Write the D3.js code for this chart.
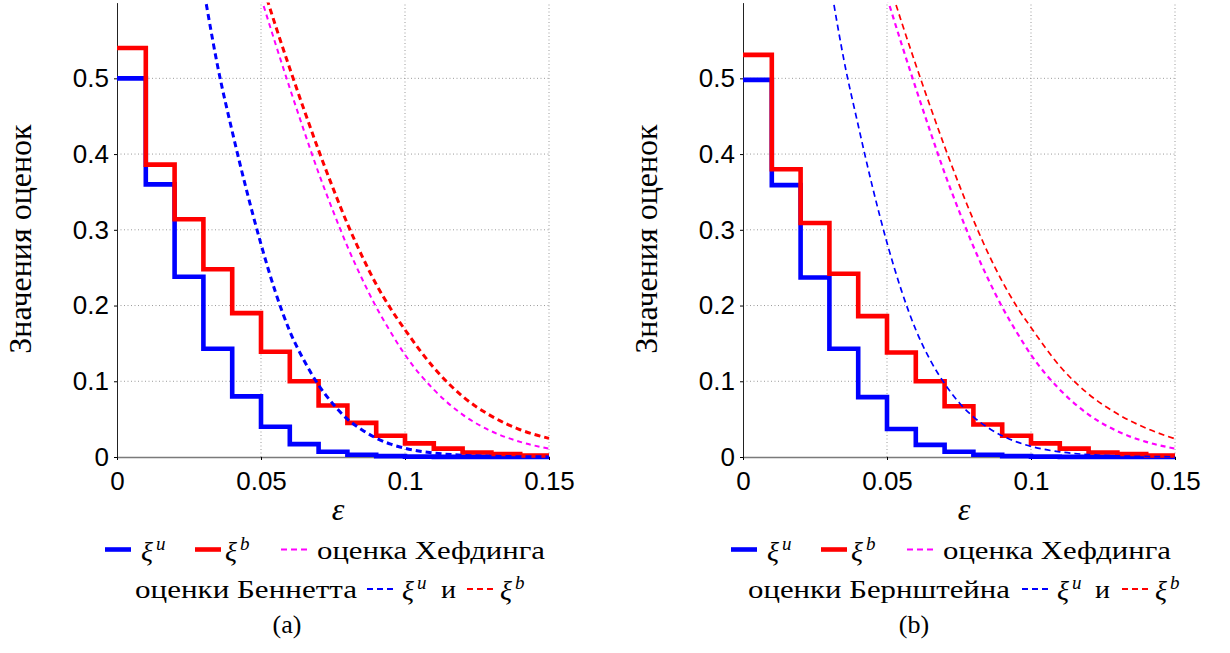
<!DOCTYPE html>
<html>
<head>
<meta charset="utf-8">
<script src="https://cdn.jsdelivr.net/npm/d3@7"></script>
<style>
  body { margin: 0; background: #fff; }
  svg { display: block; }
  .serif { font-family: 'Liberation Serif', 'Times New Roman', serif; }
  .sans { font-family: 'Liberation Sans', Arial, sans-serif; }
</style>
</head>
<body>
<script>
// axis ticks
const xTicks = [0, 0.05, 0.1, 0.15];
const xTickLabels = ['0', '0.05', '0.1', '0.15'];
const yTicks = [0, 0.1, 0.2, 0.3, 0.4, 0.5];
const yTickLabels = ['0', '0.1', '0.2', '0.3', '0.4', '0.5'];

// step estimates, one value per bin of width 0.01
const binEdges = [0, 0.01, 0.02, 0.03, 0.04, 0.05, 0.06, 0.07, 0.08, 0.09, 0.10, 0.11, 0.12, 0.13, 0.14, 0.15];
const xiU_a = [0.500, 0.360, 0.238, 0.143, 0.080, 0.040, 0.017, 0.007, 0.003, 0.0012, 0.0005, 0.0002, 0.0001, 0.00005, 0.00002];
const xiB_a = [0.540, 0.386, 0.314, 0.248, 0.190, 0.139, 0.100, 0.068, 0.045, 0.028, 0.018, 0.011, 0.006, 0.004, 0.002];
const xiU_b = [0.498, 0.359, 0.237, 0.143, 0.079, 0.037, 0.016, 0.007, 0.003, 0.0012, 0.0005, 0.0002, 0.0001, 0.00005, 0.00002];
const xiB_b = [0.531, 0.380, 0.309, 0.242, 0.186, 0.138, 0.100, 0.067, 0.043, 0.028, 0.018, 0.011, 0.006, 0.004, 0.002];

// bound curves
const boundEps = [0.05, 0.055, 0.06, 0.065, 0.07, 0.075, 0.08, 0.085, 0.09, 0.095, 0.10, 0.11, 0.12, 0.13, 0.14, 0.15];
const hoeffding = [0.607, 0.546, 0.487, 0.430, 0.375, 0.325, 0.278, 0.236, 0.198, 0.165, 0.135, 0.089, 0.056, 0.034, 0.020, 0.011];
const bennettB = [0.630, 0.570, 0.513, 0.458, 0.405, 0.355, 0.308, 0.266, 0.228, 0.196, 0.168, 0.118, 0.080, 0.054, 0.036, 0.0246];
const bernsteinB = [0.635, 0.575, 0.518, 0.463, 0.410, 0.360, 0.313, 0.270, 0.232, 0.199, 0.171, 0.120, 0.083, 0.057, 0.038, 0.024];

const uEps = [0.031, 0.035, 0.04, 0.045, 0.05, 0.055, 0.06, 0.065, 0.07, 0.075, 0.08, 0.085, 0.09, 0.095, 0.10, 0.11, 0.12, 0.13, 0.14, 0.15];
const bennettU = [0.598, 0.515, 0.430, 0.352, 0.281, 0.218, 0.166, 0.127, 0.095, 0.070, 0.050, 0.036, 0.025, 0.017, 0.0115, 0.0052, 0.0023, 0.001, 0.0004, 0.00015];
const bernsteinU = [0.610, 0.525, 0.438, 0.356, 0.283, 0.220, 0.168, 0.128, 0.097, 0.072, 0.053, 0.039, 0.028, 0.020, 0.014, 0.0068, 0.0032, 0.0015, 0.0007, 0.0003];

const draw = () => {
    const width = 1230, height = 653;
    const yBottom = 457, yTop = 2.6;

    const svg = d3.select('body')
        .append('svg')
        .attr('width', width)
        .attr('height', height);

    const panels = [
        {id: 'a', x0: 117, x1: 549, stepU: xiU_a, stepB: xiB_a,
         curveU: bennettU, curveB: bennettB, dashW: 3, magW: 2,
         row2: 'оценки Беннетта', row2x: 135, row2len: 222,
         r2: {blue: 367, xiU: 402, and: 441, red: 467, xiB: 500},
         caption: '(a)', capX: 287},
        {id: 'b', x0: 743, x1: 1175, stepU: xiU_b, stepB: xiB_b,
         curveU: bernsteinU, curveB: bernsteinB, dashW: 1.7, magW: 2.2,
         row2: 'оценки Бернштейна', row2x: 748, row2len: 262,
         r2: {blue: 1022, xiU: 1057, and: 1095, red: 1122, xiB: 1155},
         caption: '(b)', capX: 914}
    ];

    const xiLabel = (g, x, yBase, sup) => {
        g.append('text').attr('class', 'serif').attr('x', x).attr('y', yBase)
            .attr('font-style', 'italic').attr('font-size', 28).text('ξ');
        g.append('text').attr('class', 'serif').attr('x', x + 15).attr('y', yBase - 11)
            .attr('font-style', 'italic').attr('font-size', 19).text(sup);
    };

    const sample = (g, x, y, color, w, dash) => {
        g.append('line').attr('x1', x).attr('x2', x + 26)
            .attr('y1', y).attr('y2', y)
            .attr('stroke', color).attr('stroke-width', w)
            .attr('stroke-dasharray', dash || null);
    };

    panels.forEach(p => {
        const x = d3.scaleLinear().domain([0, 0.15]).range([p.x0, p.x1]);
        const y = d3.scaleLinear().domain([0, 0.6]).range([yBottom, yTop]);
        const g = svg.append('g');

        //grid
        const grid = g.append('g')
            .attr('stroke', '#9a9a9a')
            .attr('stroke-width', 1)
            .attr('stroke-dasharray', '1,2.5');
        grid.selectAll('.gx').data(xTicks.filter(d => d > 0)).enter()
            .append('line')
            .attr('x1', d => x(d)).attr('x2', d => x(d))
            .attr('y1', y(0)).attr('y2', y(0.6));
        grid.selectAll('.gy').data(yTicks.filter(d => d > 0)).enter()
            .append('line')
            .attr('x1', x(0)).attr('x2', x(0.15))
            .attr('y1', d => y(d)).attr('y2', d => y(d));

        //axes
        const xAxis = g.append('g')
            .attr('transform', `translate(0,${yBottom})`)
            .call(d3.axisBottom(x).tickValues(xTicks)
                .tickFormat((d, i) => xTickLabels[i])
                .tickSize(3).tickSizeOuter(0).tickPadding(11.5));
        xAxis.attr('font-family', null).attr('class', 'sans');
        xAxis.select('.domain').attr('stroke', '#7a7a7a').attr('stroke-width', 1.6);
        xAxis.selectAll('text').attr('font-size', 26).attr('fill', '#000');

        const yAxis = g.append('g')
            .attr('transform', `translate(${p.x0},0)`)
            .call(d3.axisLeft(y).tickValues(yTicks)
                .tickFormat((d, i) => yTickLabels[i])
                .tickSize(3).tickSizeOuter(0).tickPadding(5));
        yAxis.attr('font-family', null).attr('class', 'sans');
        yAxis.select('.domain').attr('stroke', '#222').attr('stroke-width', 1);
        yAxis.selectAll('text').attr('font-size', 26).attr('fill', '#000');

        //axis titles
        g.append('text').attr('class', 'serif')
            .attr('transform', `translate(${p.x0 - 86},${239}) rotate(-90)`)
            .attr('text-anchor', 'middle')
            .attr('font-size', 32)
            .text('Значения оценок');
        g.append('text').attr('class', 'serif')
            .attr('x', (p.x0 + p.x1) / 2 + 5).attr('y', 520)
            .attr('text-anchor', 'middle')
            .attr('font-style', 'italic').attr('font-size', 32)
            .text('ε');

        //step lines
        const step = d3.line()
            .x(d => x(d[0])).y(d => y(d[1]))
            .curve(d3.curveStepAfter);
        const stepPts = vals => binEdges.map((e, i) => [e, vals[Math.min(i, vals.length - 1)]]);

        g.append('path').attr('d', step(stepPts(p.stepU)))
            .attr('fill', 'none').attr('stroke', '#0000ff').attr('stroke-width', 4.6);
        g.append('path').attr('d', step(stepPts(p.stepB)))
            .attr('fill', 'none').attr('stroke', '#ff0000').attr('stroke-width', 4.6);

        //bound curves
        const clipId = 'clip-' + p.id;
        svg.append('clipPath').attr('id', clipId)
            .append('rect').attr('x', p.x0).attr('y', yTop)
            .attr('width', p.x1 - p.x0 + 2).attr('height', yBottom - yTop + 10);

        const curve = d3.line()
            .x(d => x(d[0])).y(d => y(d[1]))
            .curve(d3.curveMonotoneX);
        const curves = g.append('g').attr('clip-path', `url(#${clipId})`);
        const addCurve = (eps, vals, color, w, dash) => {
            curves.append('path')
                .attr('d', curve(eps.map((e, i) => [e, vals[i]])))
                .attr('fill', 'none').attr('stroke', color)
                .attr('stroke-width', w).attr('stroke-dasharray', dash);
        };
        addCurve(boundEps, hoeffding, '#ff00ff', p.magW, '5,4');
        addCurve(uEps, p.curveU, '#0000ff', p.dashW, '6,4');
        addCurve(boundEps, p.curveB, '#ff0000', p.dashW, '6,4');

        //legend
        const lg = svg.append('g');
        const off = p.x0 - 117;
        const r1 = 549.5, b1 = 558.5;
        sample(lg, 105 + off, r1, '#0000ff', 4.6);
        xiLabel(lg, 141 + off, b1 + 2, 'u');
        sample(lg, 195 + off, r1, '#ff0000', 4.6);
        xiLabel(lg, 225 + off, b1 + 2, 'b');
        sample(lg, 281 + off, r1, '#ff00ff', 2, '6,4');
        lg.append('text').attr('class', 'serif').attr('x', 317 + off).attr('y', b1)
            .attr('font-size', 26)
            .attr('textLength', 228).attr('lengthAdjust', 'spacingAndGlyphs')
            .text('оценка Хефдинга');

        const r2 = 589, b2 = 598;
        lg.append('text').attr('class', 'serif').attr('x', p.row2x).attr('y', b2)
            .attr('font-size', 26)
            .attr('textLength', p.row2len).attr('lengthAdjust', 'spacingAndGlyphs')
            .text(p.row2);
        sample(lg, p.r2.blue, r2, '#0000ff', 2, '6,4');
        xiLabel(lg, p.r2.xiU, b2 + 2, 'u');
        lg.append('text').attr('class', 'serif').attr('x', p.r2.and).attr('y', b2)
            .attr('font-size', 26)
            .attr('textLength', 15).attr('lengthAdjust', 'spacingAndGlyphs')
            .text('и');
        sample(lg, p.r2.red, r2, '#ff0000', 2, '6,4');
        xiLabel(lg, p.r2.xiB, b2 + 2, 'b');

        lg.append('text').attr('class', 'serif').attr('x', p.capX).attr('y', 633)
            .attr('text-anchor', 'middle')
            .attr('font-size', 26)
            .text(p.caption);
    });
};

draw();
</script>
</body>
</html>
